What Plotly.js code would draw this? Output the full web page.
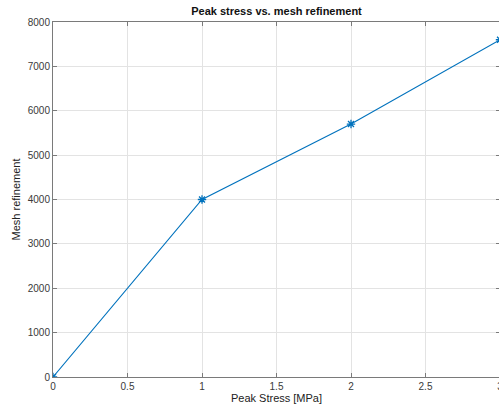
<!DOCTYPE html>
<html>
<head>
<meta charset="utf-8">
<script src="https://cdn.plot.ly/plotly-3.0.1.min.js"></script>
<style>
  html, body { margin: 0; padding: 0; background: #fff; overflow: hidden; }
  #chart { width: 512px; height: 404px; }
</style>
</head>
<body>
<div id="chart"></div>
<script>
// Peak stress [MPa] against mesh refinement level
const peakStress = [0, 1, 2, 3];
const meshRefinement = [0, 4000, 5700, 7600];

const xTicks = [0, 0.5, 1, 1.5, 2, 2.5, 3];
const xTickText = ['0', '0.5', '1', '1.5', '2', '2.5', '3'];
const yTicks = [0, 1000, 2000, 3000, 4000, 5000, 6000, 7000, 8000];

const font = 'Liberation Sans, Arial, Helvetica, sans-serif';

const trace = {
  x: peakStress,
  y: meshRefinement,
  type: 'scatter',
  mode: 'lines+markers',
  line: { color: '#0072BD', width: 1.1 },
  marker: { symbol: 'asterisk-open', size: 7, line: { color: '#0072BD', width: 1.3 } },
  cliponaxis: true,
  hoverinfo: 'x+y'
};

const axisCommon = {
  showline: true,
  linecolor: '#7a7a7a',
  linewidth: 1,
  mirror: 'ticks',
  ticks: 'inside',
  ticklen: 4,
  tickcolor: '#7a7a7a',
  showgrid: true,
  gridcolor: '#e3e3e3',
  gridwidth: 1,
  zeroline: false,
  tickfont: { family: font, size: 10, color: '#3a3a3a' }
};

// The axes box runs slightly past the right edge of the window
const layout = {
  width: 512,
  height: 404,
  margin: { l: 53, r: 12, t: 22, b: 27 },
  paper_bgcolor: '#ffffff',
  plot_bgcolor: '#ffffff',
  showlegend: false,
  title: {
    text: '<b>Peak stress vs. mesh refinement</b>',
    font: { family: font, size: 11, color: '#111' },
    x: 0.54, xanchor: 'center',
    y: 0.972, yanchor: 'middle'
  },
  xaxis: Object.assign({}, axisCommon, {
    range: [0, 3],
    tickvals: xTicks,
    ticktext: xTickText,
    title: { text: 'Peak Stress [MPa]', font: { family: font, size: 11, color: '#222' }, standoff: 0 }
  }),
  yaxis: Object.assign({}, axisCommon, {
    range: [0, 8000],
    tickvals: yTicks,
    title: { text: 'Mesh refinement', font: { family: font, size: 11, color: '#222' }, standoff: 4 }
  })
};

Plotly.newPlot('chart', [trace], layout, { displayModeBar: false, staticPlot: true });
</script>
</body>
</html>
